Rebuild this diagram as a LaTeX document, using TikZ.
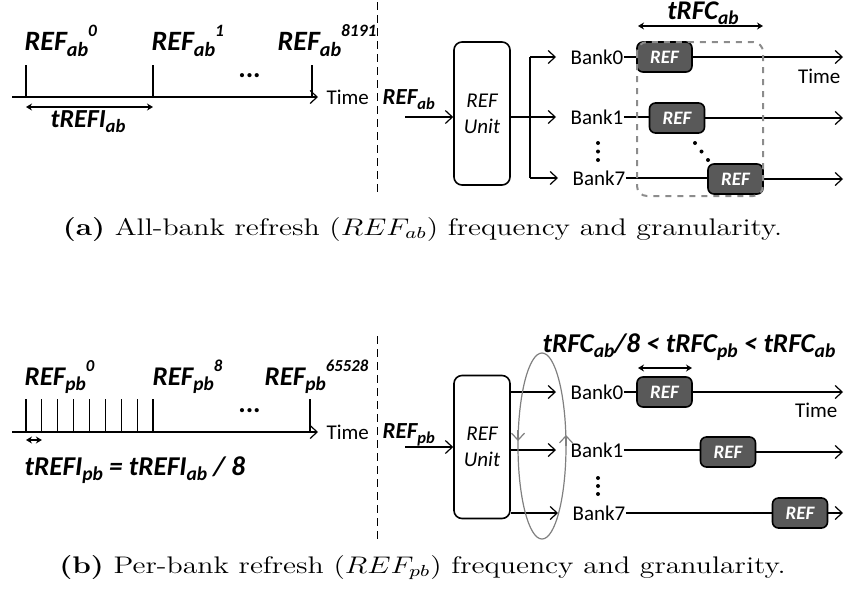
\documentclass[tikz,border=0pt]{standalone}
\usepackage{fontspec}
\setsansfont{Carlito}
\usepackage{graphicx}
\usetikzlibrary{arrows.meta, positioning}
\definecolor{refgray}{HTML}{595959}
\definecolor{boxgray}{HTML}{8C8C8C}

\newcommand{\subtx}[1]{\raisebox{-0.22em}{\scalebox{0.72}{#1}}}
\newcommand{\suptx}[1]{\raisebox{0.5em}{\scalebox{0.62}{#1}}}
\newcommand{\capwide}[1]{\scalebox{1.24}[1]{#1}}

\tikzset{
  lbl/.style={font=\sffamily\bfseries\itshape\fontsize{14}{16}\selectfont, inner sep=0pt, anchor=base west},
  txt/.style={font=\sffamily\fontsize{10.5}{12}\selectfont, inner sep=0pt},
  bank/.style={txt, anchor=west},
  refbox/.style={draw, line width=0.8pt, fill=refgray, text=white, rounded corners=3pt, minimum width=27.5pt, minimum height=15pt, inner sep=0pt, font=\sffamily\bfseries\itshape\fontsize{9.5}{11}\selectfont},
  unitbox/.style={draw, line width=0.8pt, rounded corners=4pt, minimum width=28pt, minimum height=71.5pt, align=center, font=\sffamily\itshape\fontsize{10.5}{13}\selectfont},
  flow/.style={-{Straight Barb[length=3.5pt,width=6.5pt]}},
  span/.style={{Stealth[length=3pt,width=3.5pt]}-{Stealth[length=3pt,width=3.5pt]}},
  sep/.style={dash pattern=on 4pt off 2.5pt, line width=0.5pt},
  caption/.style={font=\fontsize{12}{14}\selectfont, inner sep=0pt, anchor=base}
}

\begin{document}
\begin{tikzpicture}[x=0.5pt, y=-0.5pt, line width=0.6pt]
\useasboundingbox (0,0) rectangle (845,590);

% (a) all-bank timeline
\coordinate (t0a) at (12,97);
\coordinate (tipa) at (318,97);
\draw[flow] (t0a) -- (tipa);
\node[txt, right=4pt of tipa] (timea) {Time};
\foreach \x/\n in {26/0, 153/1, 312/2}
  \draw (\x,65) -- (\x,97) coordinate (ka\n);
\node[lbl] (ra0) at (24,50) {REF\subtx{ab}\suptx{0}};
\node[lbl] (ra1) at (151,50) {REF\subtx{ab}\suptx{1}};
\node[lbl] (ran) at (277,50) {REF\subtx{ab}\suptx{8191}};
\node[lbl, anchor=center] (dotsa) at (250,76) {...};
\draw[span] ([yshift=-5pt]ka0) -- ([yshift=-5pt]ka1);
\node[lbl, anchor=base, font=\sffamily\bfseries\itshape\fontsize{13}{15}\selectfont] (trefia) at (88,127) {tREFI\subtx{ab}};
\draw[sep] (377,2) -- (377,196);

% (a) refresh unit and banks
\node[lbl, font=\sffamily\bfseries\itshape\fontsize{11.5}{14}\selectfont] (ina) at (382,104) {REF\subtx{ab}};
\node[unitbox] (unita) at (482,113.5) {REF\\Unit};
\coordinate (ina0) at (405,117);
\draw[flow] (ina0) -- (ina0 -| unita.west);
\coordinate (fka) at (530,117);
\draw (unita.east |- fka) -- (fka);
\draw (530,57) -- (530,178);
\node[bank] (b0a) at (570,57) {Bank0};
\node[bank] (b1a) at (570,117) {Bank1};
\node[bank] (b7a) at (572,178) {Bank7};
\foreach \b in {b0a, b1a, b7a}
  \draw[flow] (fka |- \b) -- ([xshift=-7pt]\b.west);
\node[refbox] (e0a) at (664.5,57) {REF};
\node[refbox] (e1a) at (677,118) {REF};
\node[refbox] (e7a) at (735.5,179) {REF};
\foreach \b/\e in {b0a/e0a, b1a/e1a, b7a/e7a} {
  \draw (\b.east) -- (\b.east -| \e.west);
  \draw[flow] (\e.east) -- (843,0 |- \e);
}
\node[txt, anchor=north east] (timeb) at (841,68) {Time};
\foreach \y in {143,151.5,160} \fill (598,\y) circle (1pt);
\foreach \x/\y in {695/143, 701.5/151.5, 708/160} \fill (\x,\y) circle (1pt);
\draw[boxgray, dashed, line width=1pt, rounded corners=5pt] (637,42) rectangle (763,196);
\coordinate (fa0) at (638,26);
\coordinate (fa1) at (763,26);
\draw[span] (fa0) -- (fa1);
\node[lbl, anchor=base, font=\sffamily\bfseries\itshape\fontsize{13.5}{16}\selectfont] (trfca) at (703,19) {tRFC\subtx{ab}};

\node[caption] (capa) at (422.5,235) {\capwide{\textbf{(a)} All-bank refresh ($REF_{ab}$) frequency and granularity.}};

% (b) per-bank timeline
\coordinate (t0b) at (12,432);
\coordinate (tipb) at (318,432);
\draw[flow] (t0b) -- (tipb);
\node[txt, right=4pt of tipb] (timec) {Time};
\foreach \i in {0,...,8}
  \draw (26+15.875*\i,399) -- (26+15.875*\i,432) coordinate (kb\i);
\draw (310,399) -- (310,432);
\node[lbl, font=\sffamily\bfseries\itshape\fontsize{13.5}{16}\selectfont] (rb0) at (24,385) {REF\subtx{pb}\suptx{0}};
\node[lbl, font=\sffamily\bfseries\itshape\fontsize{13.5}{16}\selectfont] (rb8) at (152,385) {REF\subtx{pb}\suptx{8}};
\node[lbl, font=\sffamily\bfseries\itshape\fontsize{13.5}{16}\selectfont] (rbn) at (264,385) {REF\subtx{pb}\suptx{65528}};
\node[lbl, anchor=center] (dotsb) at (250,411) {...};
\draw[span] ([yshift=-4pt]kb0) -- ([yshift=-4pt]kb1);
\node[lbl, font=\sffamily\bfseries\itshape\fontsize{13.6}{16}\selectfont] (trefib) at (24,475) {tREFI\subtx{pb} = tREFI\subtx{ab} / 8};
\draw[sep] (377,336) -- (377,543);

% (b) refresh unit and banks
\node[lbl, font=\sffamily\bfseries\itshape\fontsize{11.5}{14}\selectfont] (inb) at (382,438) {REF\subtx{pb}};
\node[unitbox] (unitb) at (482,447) {REF\\Unit};
\coordinate (inb0) at (405,447);
\draw[flow] (inb0) -- (inb0 -| unitb.west);
\node[bank] (b0b) at (570,392) {Bank0};
\node[bank] (b1b) at (570,450) {Bank1};
\node[bank] (b7b) at (572,513) {Bank7};
\foreach \b in {b0b, b1b, b7b}
  \draw[flow] (unitb.east |- \b) -- ([xshift=-7pt]\b.west);
\node[refbox] (e0b) at (664.5,392) {REF};
\node[refbox] (e1b) at (728,452) {REF};
\node[refbox] (e7b) at (800,513) {REF};
\foreach \b/\e in {b0b/e0b, b1b/e1b, b7b/e7b} {
  \draw (\b.east) -- (\b.east -| \e.west);
  \draw[flow] (\e.east) -- (843,0 |- \e);
}
\node[txt, anchor=north east] (timed) at (838,402) {Time};
\foreach \y in {478,486,494} \fill (598,\y) circle (1pt);
\draw[gray] (542,446) ellipse [x radius=12pt, y radius=46.5pt];
\draw[gray, flow] (518,430) -- (518,441);
\draw[gray, flow] (566,446) -- (566,435);
\coordinate (fb0) at (638,368);
\coordinate (fb1) at (692,368);
\draw[span] (fb0) -- (fb1);
\node[lbl, anchor=base, font=\sffamily\bfseries\itshape\fontsize{13.6}{16}\selectfont] (trfcb) at (689,352) {tRFC\subtx{ab}/8 < tRFC\subtx{pb} < tRFC\subtx{ab}};

\node[caption] (capb) at (422.5,573) {\capwide{\textbf{(b)} Per-bank refresh ($REF_{pb}$) frequency and granularity.}};
\end{tikzpicture}
\end{document}
